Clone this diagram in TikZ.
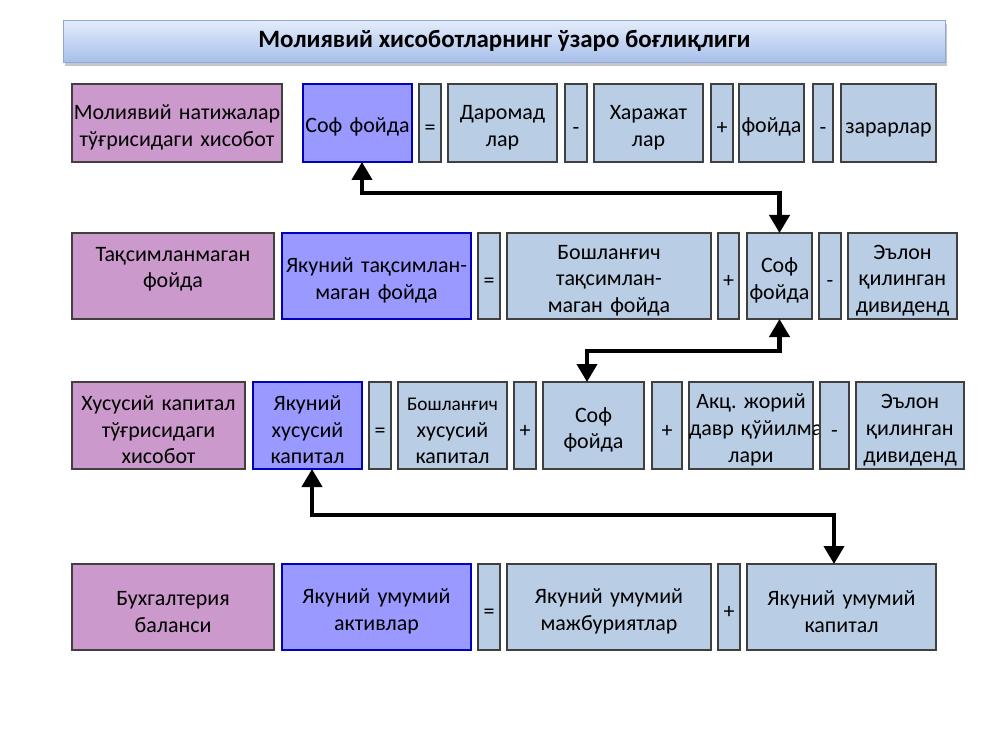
\documentclass[tikz,border=0pt]{standalone}
\usepackage{fontspec}
\setmainfont{Carlito}
\frenchspacing
\usetikzlibrary{positioning,arrows.meta,shadows}

\definecolor{reportpink}{HTML}{CC99CC}
\definecolor{totalblue}{HTML}{9999FF}
\definecolor{termblue}{HTML}{B9CDE5}
\definecolor{titletop}{HTML}{E4ECFA}
\definecolor{titlebot}{HTML}{A6BFEA}
\definecolor{titleline}{HTML}{8EA9D8}

\begin{document}
\begin{tikzpicture}[
	every node/.style={font=\fontsize{12.5}{15.2}\selectfont},
	box/.style={rectangle, draw=black!75, line width=0.6pt, inner sep=0pt, outer sep=0pt, align=center, text width=#1, execute at begin node={\rule{0pt}{13.4pt}}},
	report/.style={box=#1, fill=reportpink},
	total/.style={box=#1, fill=totalblue, draw=blue!75!black},
	term/.style={box=#1, fill=termblue},
	sign/.style={box=#1, fill=termblue},
	sign/.default=0.44cm,
	r1/.style={minimum height=1.56cm},
	r2/.style={minimum height=1.72cm},
	r3/.style={minimum height=1.74cm},
	r4/.style={minimum height=1.72cm},
	title/.style={rectangle, draw=titleline, top color=titletop, bottom color=titlebot,
		minimum width=17.64cm, minimum height=0.84cm, inner sep=0pt,
		drop shadow={opacity=0.45, shadow xshift=0.04cm, shadow yshift=-0.07cm},
		font=\fontsize{14.2}{17}\selectfont\bfseries},
	link/.style={<->, >={Triangle[width=0.4cm,length=0.36cm]}, line width=2.3pt},
]
	\useasboundingbox (0,0) rectangle (20,15);

	% Title
	\node [title, anchor=north west] (head) at (1.26,14.6) {Молиявий хисоботларнинг ўзаро боғлиқлиги};

	% Row 1: financial results
	\node [report=4.2cm, r1, anchor=north west] (rep1) at (1.44,13.32) {Молиявий натижалар\\тўғрисидаги хисобот};
	\node [total=2.18cm, r1, right=0.42cm of rep1]  (sof1)  {Соф фойда};
	\node [sign, r1, right=0.14cm of sof1]          (eq1)   {=};
	\node [term=2.18cm, r1, right=0.14cm of eq1]    (dar1)  {Даромад\\лар};
	\node [sign, r1, right=0.16cm of dar1]          (mi1)   {-};
	\node [term=2.18cm, r1, right=0.14cm of mi1]    (xar1)  {Харажат\\лар};
	\node [sign, r1, right=0.16cm of xar1]          (pl1)   {+};
	\node [term=1.3cm, r1, right=0.12cm of pl1]     (foy1)  {фойда};
	\node [sign=0.4cm, r1, right=0.18cm of foy1]    (mi1b)  {-};
	\node [term=1.9cm, r1, right=0.16cm of mi1b]    (zar1)  {зарарлар};

	% Row 2: retained earnings
	\node [report=4.04cm, r2, anchor=north west] (rep2) at (1.44,10.34) {Тақсимланмаган\\фойда\\~};
	\node [total=3.78cm, r2, right=0.16cm of rep2]  (jak2)  {Якуний тақсимлан-\\маган фойда};
	\node [sign, r2, right=0.14cm of jak2]          (eq2)   {=};
	\node [term=4.08cm, r2, right=0.14cm of eq2]    (bosh2) {Бошланғич\\тақсимлан-\\маган фойда};
	\node [sign=0.42cm, r2, right=0.14cm of bosh2]  (pl2)   {+};
	\node [term=1.3cm, r2, right=0.16cm of pl2]     (sof2)  {Соф\\фойда};
	\node [sign, r2, right=0.14cm of sof2]          (mi2)   {-};
	\node [term=2.18cm, r2, right=0.14cm of mi2]    (div2)  {Эълон\\қилинган\\дивиденд};

	% Row 3: equity
	\node [report=3.46cm, r3, anchor=north west] (rep3) at (1.44,7.36) {Хусусий капитал\\тўғрисидаги\\хисобот};
	\node [total=2.18cm, r3, right=0.16cm of rep3]  (jak3)  {Якуний\\хусусий\\капитал};
	\node [sign, r3, right=0.14cm of jak3]          (eq3)   {=};
	\node [term=2.18cm, r3, right=0.14cm of eq3]    (bosh3) {{\fontsize{11}{13}\selectfont Бошланғич}\\хусусий\\капитал};
	\node [sign, r3, right=0.14cm of bosh3]         (pl3)   {+};
	\node [term=2.02cm, r3, right=0.14cm of pl3]    (sof3)  {Соф\\фойда};
	\node [sign=0.6cm, r3, right=0.16cm of sof3]    (pl3b)  {+};
	\node [term=2.48cm, r3, right=0.14cm of pl3b]   (akc3)  {Акц. жорий\\\mbox{давр қўйилма-}\\лари};
	\node [sign=0.58cm, r3, right=0.14cm of akc3]   (mi3)   {-};
	\node [term=2.16cm, r3, right=0.14cm of mi3]    (div3)  {Эълон\\қилинган\\дивиденд};

	% Row 4: balance sheet
	\node [report=4.04cm, r4, anchor=north west] (rep4) at (1.44,3.72) {Бухгалтерия\\баланси};
	\node [total=3.78cm, r4, right=0.16cm of rep4]  (jak4)  {Якуний умумий\\активлар};
	\node [sign, r4, right=0.14cm of jak4]          (eq4)   {=};
	\node [term=4.08cm, r4, right=0.14cm of eq4]    (maj4)  {Якуний умумий\\мажбуриятлар};
	\node [sign, r4, right=0.14cm of maj4]          (pl4)   {+};
	\node [term=3.78cm, r4, right=0.14cm of pl4]    (kap4)  {Якуний умумий\\капитал};

	% Links
	\draw [link] (sof2.north) -- ++(0,0.8) -| ([xshift=0.09cm]sof1.south);
	\draw [link] (sof2.south) -- ++(0,-0.64) -| ([xshift=-0.13cm]sof3.north);
	\draw [link] ([xshift=0.09cm]jak3.south) -- ++(0,-0.92) -| ([xshift=-0.15cm]kap4.north);

\end{tikzpicture}
\end{document}
